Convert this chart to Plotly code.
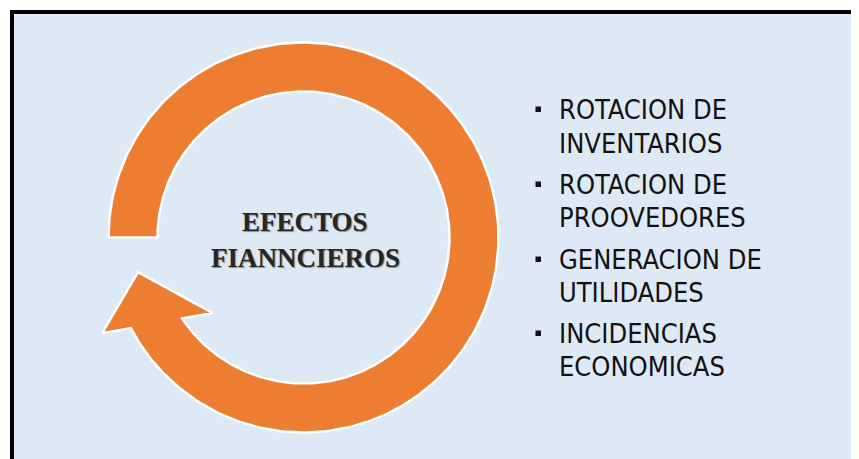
import numpy as np
import plotly.graph_objects as go

# ---- content ----
center_lines = ["EFECTOS", "FIANNCIEROS"]
bullet_items = [
    ["ROTACION DE", "INVENTARIOS"],
    ["ROTACION DE", "PROOVEDORES"],
    ["GENERACION DE", "UTILIDADES"],
    ["INCIDENCIAS", "ECONOMICAS"],
]

W, H = 859, 459
OFF = 8  # page body margin
ORANGE = "#ED7D31"
BG = "#DDE9F5"

# circular arrow geometry (page pixel space, y down)
cx, cy = 303.5, 237.5
r_out, r_in = 195, 146
start_deg = 180.0
end_out_deg = -152.3
end_in_deg = -146.3


def pt(r, deg):
    a = np.radians(deg)
    return cx + r * np.cos(a), cy - r * np.sin(a)


a_out = np.linspace(start_deg, end_out_deg, 300)
a_in = np.linspace(end_in_deg, start_deg, 300)
xs, ys = [], []
for a in a_out:
    x, y = pt(r_out, a); xs.append(x); ys.append(y)
# arrow head
for r, a in [(223, -154.6), (169, -168.2), (118, -140.2)]:
    x, y = pt(r, a); xs.append(x); ys.append(y)
for a in a_in:
    x, y = pt(r_in, a); xs.append(x); ys.append(y)
xs.append(xs[0]); ys.append(ys[0])

fig = go.Figure()
fig.add_trace(go.Scatter(
    x=xs, y=ys, mode="lines", fill="toself", fillcolor=ORANGE,
    line=dict(color="white", width=2.5), hoverinfo="skip", showlegend=False,
))

# frame
fig.add_shape(type="rect", x0=12, y0=12, x1=890, y1=490,
              line=dict(color="black", width=4), fillcolor=BG, layer="below")

# center text
for i, t in enumerate(center_lines):
    fig.add_annotation(
        x=305, y=222 + i * 36, text="<b>" + t + "</b>", showarrow=False,
        xanchor="center", yanchor="middle",
        font=dict(family="Liberation Serif, DejaVu Serif, serif", size=27, color="#262626",
                  shadow="1px 1px 1px #8a8a8a"),
    )

# bullet list
line_y = [109, 143, 184, 217, 259, 292, 333, 366]
k = 0
for item in bullet_items:
    for j, t in enumerate(item):
        fig.add_annotation(
            x=557, y=line_y[k], text=t, showarrow=False, xanchor="left", yanchor="middle",
            font=dict(family="DejaVu Sans Condensed, Liberation Sans Narrow, sans-serif",
                      size=27, color="#111111"),
        )
        if j == 0:
            fig.add_shape(type="rect", x0=535.5, x1=541, y0=line_y[k] - 2.5, y1=line_y[k] + 3,
                          line=dict(width=0), fillcolor="#111111")
        k += 1

fig.update_layout(
    width=W - OFF, height=H - OFF, margin=dict(l=0, r=0, t=0, b=0),
    paper_bgcolor="white", plot_bgcolor="white",
    xaxis=dict(range=[OFF, W], visible=False, fixedrange=True),
    yaxis=dict(range=[H, OFF], visible=False, fixedrange=True),
    showlegend=False,
)
fig.write_html("out.html")
